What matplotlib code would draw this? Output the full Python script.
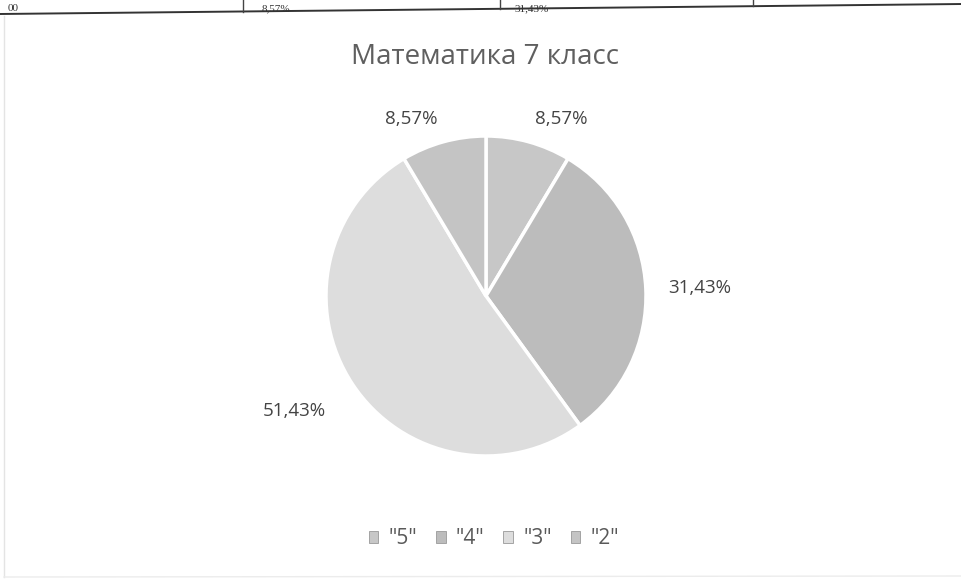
import matplotlib.pyplot as plt
import numpy as np

plt.rcParams["font.family"] = ["Open Sans", "DejaVu Sans"]

title = "Математика 7 класс"
grades = ['"5"', '"4"', '"3"', '"2"']
shares = [8.57, 31.43, 51.43, 8.57]
colors = ['#c7c7c7', '#bcbcbc', '#dddddd', '#c4c4c4']

# table fragment from the scanned page above the chart
table_cells = ["00", "8,57%", "31,43%"]

W, H = 962, 582
fig = plt.figure(figsize=(W / 100, H / 100), dpi=100)
fig.patch.set_facecolor('white')

def fx(px):
    return px / W

def fy(py):
    return 1 - py / H

# scanned table row (top edge cut off)
fig.add_artist(plt.Line2D([0, 1], [fy(14), fy(4)], color='#333333', lw=1.4))
for xpx, ytop in zip([243, 500, 753], [12, 9, 6]):
    fig.add_artist(plt.Line2D([fx(xpx), fx(xpx)], [fy(ytop), 1.0], color='#444444', lw=1.0))
for xpx, txt in zip([8, 262, 515], table_cells):
    fig.text(fx(xpx), fy(13), txt, fontsize=8, color='#333333', ha='left', va='bottom',
             family='Liberation Serif')

# faint chart frame
fig.add_artist(plt.Line2D([fx(4), fx(4)], [fy(577), fy(16)], color='#e4e4e4', lw=1.0))
fig.add_artist(plt.Line2D([fx(4), 1], [fy(577), fy(576)], color='#ececec', lw=1.0))

fig.text(fx(485), fy(57), title, fontsize=20, color='#5f5f5f', ha='center', va='center')

ax = fig.add_axes([fx(326), fy(456), 320 / W, 320 / H])
wedges, _ = ax.pie(shares, colors=colors, startangle=90, counterclock=False,
                   wedgeprops=dict(edgecolor='white', linewidth=2.5))
ax.set_xlim(-1, 1)
ax.set_ylim(-1, 1)
ax.set_aspect('equal')

label_r = [1.15, 1.14, 1.2, 1.15]
for w, s, r in zip(wedges, shares, label_r):
    ang = np.deg2rad((w.theta1 + w.theta2) / 2)
    x, y = r * np.cos(ang), r * np.sin(ang)
    ax.text(x, y, f"{s:.2f}%".replace('.', ','),
            ha='left' if x > 0 else 'right', va='top' if y < -0.3 else 'center',
            fontsize=13.5, color='#444444')

handles = [plt.Rectangle((0, 0), 1, 1, facecolor=c, edgecolor='#999999', lw=0.6) for c in colors]
fig.legend(handles, grades, loc='center', bbox_to_anchor=(fx(494), fy(539)), ncol=4,
           frameon=False, fontsize=15, handlelength=0.45, handleheight=0.45,
           handletextpad=0.5, columnspacing=0.9, labelcolor='#595959')

fig.savefig("out.png", dpi=100)
